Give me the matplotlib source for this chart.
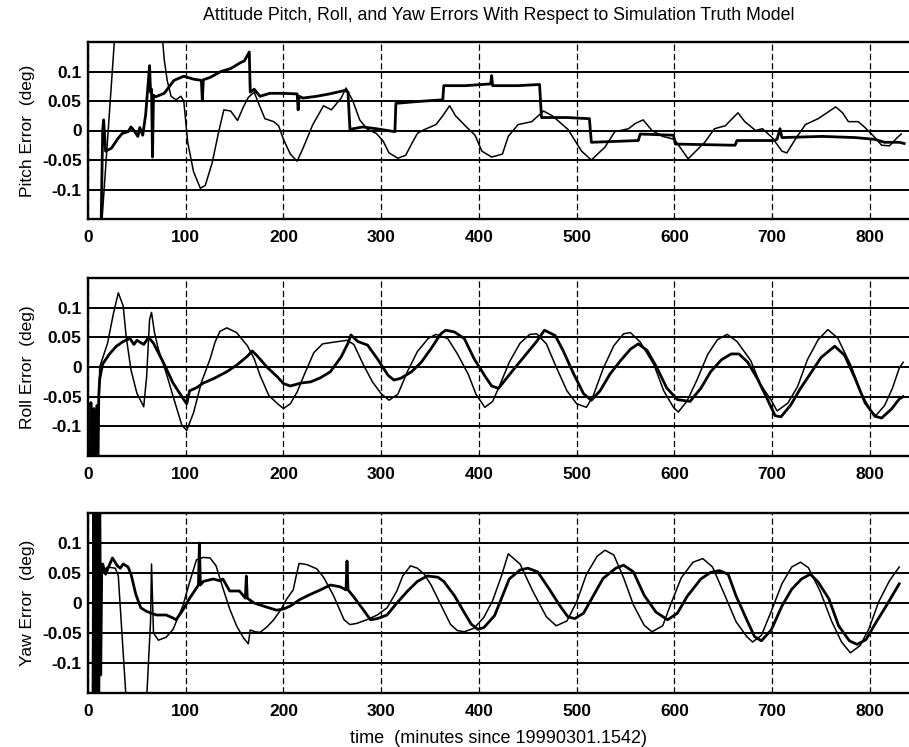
import matplotlib
matplotlib.use("Agg")
import matplotlib.pyplot as plt

plt.rcParams['font.family'] = ['Liberation Sans', 'DejaVu Sans']

# values (time in minutes, error in deg)
# values beyond +-0.15 are off-scale (clipped by the axes)

pitch_t_thin = [12, 14, 29, 74, 78, 81, 85, 90, 95, 98, 102, 108, 115, 120, 127, 134, 139, 146, 153, 159,
                164, 170, 176, 181, 190, 195, 200, 207, 214, 220, 230, 241, 249, 259, 264, 271, 278, 286, 295, 302,
                308, 317, 325, 332, 337, 342, 356, 363, 370, 376, 386, 396, 403, 413, 424, 430, 440, 454, 466, 475,
                491, 505, 515, 529, 539, 553, 560, 568, 577, 588, 600, 614, 631, 641, 652, 665, 672, 683, 690, 700,
                710, 715, 724, 734, 747, 765, 772, 778, 788, 795, 804, 812, 820, 828, 832]
pitch_v_thin = [-0.2, -0.16, 0.2, 0.2, 0.12, 0.085, 0.058, 0.052, 0.058, 0.05, -0.02, -0.07, -0.098, -0.093, -0.055, 0.0, 0.035, 0.033, 0.017, 0.04,
                0.056, 0.065, 0.04, 0.02, 0.015, 0.008, -0.015, -0.04, -0.052, -0.03, 0.01, 0.042, 0.035, 0.055, 0.072, 0.05, 0.018, 0.002, -0.005, -0.018,
                -0.038, -0.047, -0.042, -0.02, -0.005, 0.0, 0.01, 0.025, 0.042, 0.025, 0.008, -0.008, -0.035, -0.045, -0.04, -0.01, 0.01, 0.015, 0.033, 0.025,
                0.002, -0.035, -0.05, -0.028, -0.002, 0.003, 0.012, 0.018, 0.0, -0.01, -0.015, -0.048, -0.02, 0.003, 0.008, 0.03, 0.015, 0.0, 0.003, -0.012,
                -0.035, -0.038, -0.014, 0.01, 0.02, 0.04, 0.03, 0.015, 0.015, 0.005, -0.01, -0.025, -0.026, -0.012, -0.006]

pitch_t_thick = [13, 15, 16, 18, 24, 30, 35, 41, 44, 47, 51, 53, 56, 59, 63, 64, 65, 66, 67, 69,
                 78, 88, 98, 108, 116, 117, 118, 125, 136, 146, 156, 160, 165, 166, 170, 176, 186, 200, 214, 215,
                 216, 220, 234, 247, 263, 266, 268, 281, 295, 314, 315, 336, 363, 364, 386, 412, 413, 414, 440, 462,
                 464, 490, 513, 515, 563, 565, 599, 601, 662, 664, 700, 705, 708, 710, 751, 785, 805, 815, 830, 835]
pitch_v_thick = [-0.2, 0.0, 0.018, -0.035, -0.03, -0.015, -0.005, -0.002, 0.006, 0.0, -0.01, 0.005, -0.008, 0.027, 0.11, 0.065, 0.07, -0.045, 0.06, 0.057,
                 0.063, 0.085, 0.092, 0.087, 0.085, 0.05, 0.086, 0.09, 0.1, 0.105, 0.115, 0.118, 0.133, 0.065, 0.07, 0.058, 0.063, 0.063, 0.062, 0.035,
                 0.058, 0.055, 0.058, 0.062, 0.068, 0.065, 0.002, 0.006, 0.003, -0.002, 0.046, 0.049, 0.052, 0.076, 0.076, 0.079, 0.093, 0.076, 0.076, 0.078,
                 0.022, 0.022, 0.02, -0.02, -0.017, -0.006, -0.008, -0.023, -0.025, -0.017, -0.017, -0.015, 0.003, -0.012, -0.01, -0.012, -0.015, -0.02, -0.02, -0.022]

roll_t_thin = [9, 12, 20, 26, 31, 36, 39, 44, 50, 57, 60, 63, 65, 68, 72, 80, 89, 96, 101, 108,
               116, 125, 130, 135, 142, 152, 163, 170, 176, 185, 194, 200, 207, 214, 222, 231, 240, 252, 265, 272,
               282, 291, 300, 308, 317, 327, 337, 348, 356, 368, 378, 389, 397, 406, 414, 421, 431, 442, 452, 459,
               469, 479, 490, 500, 510, 517, 527, 538, 548, 555, 565, 579, 589, 599, 604, 613, 623, 634, 644, 654,
               664, 678, 688, 699, 705, 716, 726, 736, 747, 757, 767, 781, 791, 801, 806, 815, 823, 830, 834]
roll_v_thin = [-0.2, 0.0, 0.04, 0.09, 0.125, 0.103, 0.052, -0.005, -0.044, -0.067, -0.016, 0.08, 0.092, 0.058, 0.03, -0.01, -0.06, -0.098, -0.107, -0.077,
               -0.026, 0.014, 0.042, 0.06, 0.066, 0.058, 0.036, 0.014, -0.014, -0.048, -0.062, -0.07, -0.062, -0.042, -0.01, 0.024, 0.039, 0.042, 0.045, 0.038,
               0.003, -0.025, -0.045, -0.056, -0.046, -0.007, 0.026, 0.048, 0.055, 0.048, 0.022, -0.012, -0.046, -0.068, -0.058, -0.032, 0.008, 0.04, 0.055, 0.056,
               0.039, 0.0, -0.04, -0.062, -0.068, -0.048, -0.003, 0.036, 0.056, 0.058, 0.042, 0.004, -0.04, -0.068, -0.076, -0.057, -0.022, 0.021, 0.046, 0.055,
               0.043, 0.011, -0.029, -0.056, -0.074, -0.061, -0.033, 0.012, 0.046, 0.063, 0.049, 0.001, -0.044, -0.074, -0.082, -0.065, -0.036, -0.002, 0.008]

roll_t_thick = [2, 3, 4, 6, 7, 9, 10, 11, 12, 15, 22, 29, 36, 43, 47, 50, 57, 62, 67, 77,
                87, 98, 101, 104, 111, 118, 128, 142, 152, 163, 168, 173, 183, 194, 200, 207, 218, 228, 238, 248,
                259, 266, 269, 276, 286, 296, 307, 313, 320, 331, 341, 351, 361, 366, 375, 385, 395, 406, 413, 420,
                435, 449, 459, 467, 478, 486, 497, 507, 515, 524, 534, 545, 555, 563, 572, 582, 592, 603, 616, 627,
                637, 648, 658, 666, 675, 685, 695, 703, 709, 719, 729, 740, 750, 764, 774, 784, 795, 805, 812, 822,
                830, 834]
roll_v_thick = [-0.2, -0.06, -0.2, -0.07, -0.2, -0.065, -0.2, -0.05, -0.02, 0.005, 0.022, 0.035, 0.043, 0.048, 0.038, 0.045, 0.038, 0.05, 0.04, 0.008,
                -0.027, -0.055, -0.062, -0.04, -0.035, -0.027, -0.02, -0.008, 0.003, 0.018, 0.027, 0.019, 0.0, -0.017, -0.028, -0.032, -0.027, -0.025, -0.018, -0.008,
                0.017, 0.04, 0.054, 0.043, 0.037, 0.014, -0.014, -0.022, -0.019, -0.008, 0.008, 0.031, 0.056, 0.062, 0.059, 0.048, 0.014, -0.015, -0.032, -0.036,
                -0.005, 0.023, 0.043, 0.062, 0.053, 0.028, -0.012, -0.045, -0.056, -0.04, -0.012, 0.011, 0.03, 0.039, 0.028, -0.001, -0.035, -0.055, -0.058, -0.036,
                -0.008, 0.012, 0.022, 0.022, 0.008, -0.02, -0.054, -0.082, -0.084, -0.064, -0.036, -0.009, 0.016, 0.035, 0.02, -0.016, -0.06, -0.083, -0.086, -0.071,
                -0.054, -0.05]

yaw_t_thin = [13, 20, 28, 31, 39, 40, 59, 60, 64, 65, 67, 72, 80, 87, 97, 104, 111, 118, 125, 131,
              138, 145, 152, 159, 164, 166, 171, 176, 183, 190, 197, 203, 210, 213, 216, 224, 234, 241, 251, 262,
              268, 275, 285, 296, 306, 316, 322, 330, 337, 344, 351, 361, 371, 378, 385, 395, 405, 414, 423, 430,
              442, 455, 469, 479, 490, 500, 510, 521, 529, 538, 548, 558, 569, 577, 588, 596, 607, 619, 629, 639,
              651, 663, 674, 680, 689, 699, 710, 720, 729, 737, 749, 761, 771, 780, 790, 799, 809, 820, 830]
yaw_v_thin = [0.05, 0.06, 0.058, 0.045, -0.16, -0.2, -0.2, -0.16, -0.03, 0.065, -0.05, -0.062, -0.057, -0.044, -0.005, 0.035, 0.072, 0.076, 0.075, 0.062,
              0.025, -0.01, -0.038, -0.058, -0.068, -0.045, -0.048, -0.049, -0.04, -0.028, -0.012, 0.006, 0.022, 0.045, 0.066, 0.064, 0.057, 0.043, 0.013, -0.028,
              -0.036, -0.034, -0.028, -0.02, -0.008, 0.02, 0.045, 0.062, 0.058, 0.048, 0.03, -0.003, -0.036, -0.046, -0.048, -0.042, -0.024, 0.004, 0.045, 0.082,
              0.065, 0.02, -0.023, -0.038, -0.03, 0.002, 0.048, 0.078, 0.088, 0.08, 0.042, -0.003, -0.037, -0.048, -0.038, -0.003, 0.042, 0.068, 0.074, 0.06,
              0.015, -0.031, -0.056, -0.065, -0.054, -0.014, 0.032, 0.06, 0.068, 0.059, 0.02, -0.031, -0.065, -0.083, -0.071, -0.043, 0.002, 0.037, 0.06]

yaw_t_thick = [5, 6, 7, 8, 9, 10, 11, 12, 13, 14, 15, 18, 21, 25, 30, 33, 36, 41, 44, 49,
               54, 60, 70, 80, 87, 90, 97, 104, 111, 113, 114, 115, 118, 128, 135, 138, 145, 155, 161, 162,
               163, 170, 183, 193, 200, 207, 217, 227, 238, 248, 258, 264, 265, 266, 272, 282, 289, 296, 306, 316,
               327, 337, 347, 358, 364, 375, 385, 392, 399, 405, 416, 431, 442, 450, 460, 472, 483, 491, 498, 507,
               517, 527, 540, 548, 558, 569, 581, 593, 603, 613, 627, 637, 646, 655, 663, 674, 682, 689, 699, 710,
               720, 730, 739, 747, 758, 768, 779, 787, 796, 806, 817, 830]
yaw_v_thick = [-0.2, 0.2, -0.2, 0.2, -0.2, 0.2, -0.2, 0.2, -0.12, 0.05, 0.065, 0.048, 0.06, 0.075, 0.062, 0.058, 0.065, 0.06, 0.048, 0.014,
               -0.008, -0.014, -0.02, -0.02, -0.025, -0.028, -0.012, 0.008, 0.025, 0.03, 0.1, 0.03, 0.036, 0.04, 0.037, 0.04, 0.02, 0.02, 0.008, 0.045,
               0.008, 0.0, -0.007, -0.012, -0.01, -0.005, 0.006, 0.014, 0.022, 0.03, 0.027, 0.022, 0.07, 0.022, 0.01, -0.012, -0.028, -0.026, -0.02, 0.0,
               0.02, 0.036, 0.045, 0.043, 0.036, 0.012, -0.016, -0.035, -0.044, -0.041, -0.021, 0.04, 0.055, 0.058, 0.052, 0.023, -0.005, -0.023, -0.026, -0.017,
               0.012, 0.041, 0.058, 0.063, 0.052, 0.013, -0.015, -0.028, -0.017, 0.011, 0.04, 0.051, 0.054, 0.048, 0.012, -0.028, -0.056, -0.063, -0.045, -0.005,
               0.023, 0.04, 0.048, 0.035, 0.007, -0.038, -0.063, -0.069, -0.061, -0.033, -0.004, 0.032]

title = 'Attitude Pitch, Roll, and Yaw Errors With Respect to Simulation Truth Model'
ylabels = ['Pitch Error  (deg)', 'Roll Error  (deg)', 'Yaw Error  (deg)']
xlabel = 'time  (minutes since 19990301.1542)'
xticks = [0, 100, 200, 300, 400, 500, 600, 700, 800]
yticks = [-0.1, -0.05, 0, 0.05, 0.1]
ytick_labels = ['-0.1', '-0.05', '0', '0.05', '0.1']

series = [
    (pitch_t_thin, pitch_v_thin, pitch_t_thick, pitch_v_thick),
    (roll_t_thin, roll_v_thin, roll_t_thick, roll_v_thick),
    (yaw_t_thin, yaw_v_thin, yaw_t_thick, yaw_v_thick),
]

W, H = 909, 747
fig = plt.figure(figsize=(W / 100, H / 100), dpi=100)

# panel boxes in pixels: (top, bottom)
boxes = [(42, 219), (278, 456), (513, 693)]
left_px = 88

for i, (top, bot) in enumerate(boxes):
    ax = fig.add_axes([left_px / W, 1 - bot / H, (W - left_px) / W, (bot - top) / H])
    t1, v1, t2, v2 = series[i]
    ax.plot(t1, v1, color='k', lw=1.1, zorder=3)
    ax.plot(t2, v2, color='k', lw=2.0, zorder=4)

    ax.set_xlim(0, 840)
    ax.set_ylim(-0.15, 0.15)
    ax.set_xticks(xticks)
    ax.set_yticks(yticks)
    ax.set_yticklabels(ytick_labels)
    ax.tick_params(length=0, labelsize=12.5)
    ax.tick_params(axis='x', pad=8)
    ax.tick_params(axis='y', pad=4.5)
    for lab in ax.get_xticklabels() + ax.get_yticklabels():
        lab.set_fontweight('bold')

    ax.set_axisbelow(True)
    ax.yaxis.grid(True, color='k', lw=1.4, ls='-')
    ax.xaxis.grid(True, color='k', lw=0.9, ls=(0, (5, 2.5)))
    for side in ['left', 'top', 'bottom']:
        ax.spines[side].set_linewidth(1.7)
    ax.spines['right'].set_visible(False)

    ax.set_ylabel(ylabels[i], fontsize=12.5, labelpad=5)
    if i == 0:
        ax.set_title(title, fontsize=12.8, pad=16)
    if i == 2:
        ax.set_xlabel(xlabel, fontsize=13, labelpad=8)

fig.savefig('out.png', dpi=100)
